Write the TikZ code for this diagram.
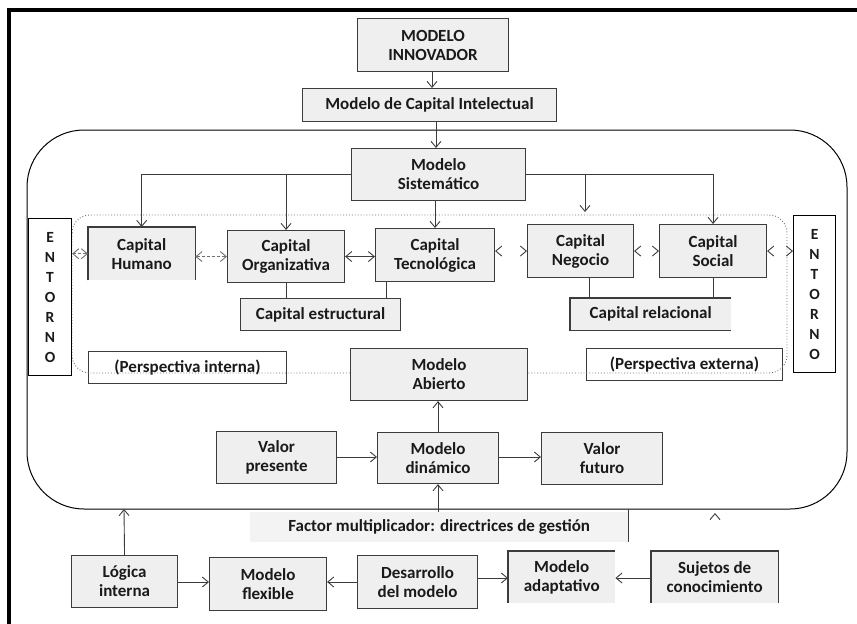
\documentclass[tikz,border=0pt]{standalone}
\usepackage{fontspec}
\setmainfont{Carlito}
\usetikzlibrary{arrows.meta}
\definecolor{boxfill}{HTML}{EFEFEF}
\definecolor{lightfill}{HTML}{F3F3F3}
\definecolor{edge}{HTML}{3C3C3C}
\definecolor{ink}{HTML}{1A1A1A}
\definecolor{loop}{HTML}{505050}
\definecolor{dots}{HTML}{707070}

\tikzset{
  boxbase/.style={fill=boxfill, inner sep=0pt, anchor=north west, align=center,
    text=ink, font=\fontsize{17}{19}\selectfont\bfseries},
  box/.style={boxbase, draw=edge, line width=1.1pt},
  openbox/.style={boxbase},
  wbox/.style={box, fill=white},
  entbox/.style={box, fill=white, draw=black, font=\fontsize{15.5}{20}\selectfont\bfseries},
  sides/.style={draw=edge, line width=1.1pt},
  conn/.style={draw=edge, line width=0.9pt},
  arr/.style={conn, -{Straight Barb[length=6pt,width=10pt,line width=0.9pt]}},
  dbl/.style={conn, {Straight Barb[length=6pt,width=10pt,line width=0.9pt]}-{Straight Barb[length=6pt,width=10pt,line width=0.9pt]}},
  dashdbl/.style={dbl, draw=dots, dash pattern=on 3pt off 2pt},
  tipsonly/.style={dbl, dash pattern=on 0pt off 200pt, line cap=butt},
}

\begin{document}
\begin{tikzpicture}[x=1pt, y=-1pt]
  \useasboundingbox (0,0) rectangle (857,624);
  \fill[white] (0,0) rectangle (857,624);

  % outer frame, open to the right and bottom
  \draw[line width=3.6pt, line cap=butt] (857,10) -- (9,10) -- (9,624);

  % loop round the core models
  \draw[loop, line width=1pt, rounded corners=57pt] (27,130) rectangle (847,509);

  % top chain
  \node[box, minimum width=151pt, minimum height=53pt] (inn) at (357,18) {MODELO\\INNOVADOR};
  \node[box, minimum width=254pt, minimum height=33pt] (mci) at (302,88) {Modelo de Capital Intelectual};
  \node[box, minimum width=174pt, minimum height=52pt] (sis) at (351,148) {Modelo\\Sistemático};

  % perspective labels (under the dotted frame)
  \node[wbox, minimum width=198pt, minimum height=32pt] (pin) at (88,351) {(Perspectiva interna)};
  \node[wbox, minimum width=196pt, minimum height=32pt] (pex) at (586,348) {(Perspectiva externa)};

  % dotted frame round the capitals
  \draw[dots, line width=0.9pt, dotted, rounded corners=18pt] (72,215) rectangle (787,373);

  % environment
  \node[entbox, minimum width=43pt, minimum height=157pt] (entL) at (28,218) {E\\N\\T\\O\\R\\N\\O};
  \node[entbox, minimum width=42pt, minimum height=157pt] (entR) at (793,215) {E\\N\\T\\O\\R\\N\\O};

  % capitals
  \node[openbox, minimum width=107pt, minimum height=53pt] (hum) at (88,227) {Capital\\Humano};
  \draw[sides] (hum.south west) -- (hum.north west) -- (hum.north east) -- (hum.south east);
  \node[box, minimum width=117pt, minimum height=52pt] (org) at (227,230) {Capital\\Organizativa};
  \node[box, minimum width=119pt, minimum height=53pt] (tec) at (375,228) {Capital\\Tecnológica};
  \node[box, minimum width=106pt, minimum height=53pt] (neg) at (527,224) {Capital\\Negocio};
  \node[box, minimum width=107pt, minimum height=53pt] (soc) at (659,224) {Capital\\Social};

  \node[box, minimum width=160pt, minimum height=32pt] (est) at (240,298) {Capital estructural};
  \node[openbox, minimum width=161pt, minimum height=32pt] (rel) at (570,298) {Capital relacional};
  \draw[sides] (rel.north east) -- (rel.north west) -- (rel.south west) -- (rel.south east);

  % core models
  \node[box, minimum width=177pt, minimum height=52pt] (abi) at (350,348) {Modelo\\Abierto};
  \node[box, minimum width=120pt, minimum height=52pt] (vpr) at (216,431) {Valor\\presente};
  \node[box, minimum width=121pt, minimum height=51pt] (din) at (377,432) {Modelo\\dinámico};
  \node[box, minimum width=121pt, minimum height=52pt] (vfu) at (541,432) {Valor\\futuro};

  \node[openbox, fill=lightfill, minimum width=378pt, minimum height=30pt] (fac) at (250,512)
    {Factor multiplicador: directrices de gestión};
  \draw[sides] (fac.east |- 0,509) -- (fac.south east);

  % bottom row
  \node[box, minimum width=106pt, minimum height=52pt] (log) at (71,555) {Lógica\\interna};
  \node[box, minimum width=117pt, minimum height=53pt] (flx) at (209,557) {Modelo\\flexible};
  \node[box, minimum width=120pt, minimum height=53pt] (des) at (357,555) {Desarrollo\\del modelo};
  \node[openbox, minimum width=107pt, minimum height=52pt] (ada) at (508,551) {Modelo\\adaptativo};
  \draw[sides] (ada.south west) -- (ada.north west) -- (ada.north east);
  \node[openbox, minimum width=127pt, minimum height=52pt] (suj) at (651,551) {Sujetos de\\conocimiento};
  \draw[sides] (suj.south west) -- (suj.north west) -- (suj.north east) -- (suj.south east);

  % free ends
  \coordinate (negtop) at (585,212);
  \coordinate (loopin) at (124,509);
  \coordinate (loopmark) at (715,513);
  \coordinate (loopmarkfoot) at (715,526);

  % top chain connectors
  \draw[arr] (inn.south -| 432,0) -- (mci.north -| 432,0);
  \draw[arr] (mci.south -| 436,0) -- (sis.north -| 436,0);

  % fan-out of the systematic model
  \draw[arr] (sis.west) -| (hum.north);
  \draw[arr] (sis.west) -| (org.north);
  \draw[arr] (sis.south -| 435,0) -- (tec.north -| 435,0);
  \draw[arr] (sis.east) -| (negtop);
  \draw[arr] (sis.east) -| (soc.north);

  % links between capitals
  \draw[dashdbl] (hum.west -| entL.east) -- (hum.west);
  \draw[dashdbl] (hum.east |- org.west) -- (org.west);
  \draw[dbl] (org.east) -- (org.east -| tec.west);
  \draw[tipsonly] (neg.west -| tec.east) -- (neg.west);
  \draw[tipsonly] (neg.east) -- (soc.west);
  \draw[tipsonly] (soc.east) -- (soc.east -| entR.west);

  % grouping lines
  \draw[conn] (org.south) -- (org.south |- est.north);
  \draw[conn] ([xshift=11pt]tec.south west) -- ([xshift=11pt]tec.south west |- est.north);
  \draw[conn] ([xshift=9pt]neg.south) -- ([xshift=9pt]neg.south |- rel.north);
  \draw[conn] (soc.south) -- (soc.south |- rel.north);

  % core model connectors
  \draw[arr] (din.north -| 438,0) -- (abi.south -| 438,0);
  \draw[arr] (vpr.east |- 0,457) -- (din.west |- 0,457);
  \draw[arr] (din.east |- 0,457) -- (vfu.west |- 0,457);
  \draw[arr] (fac.north -| 438,0) -- (din.south -| 438,0);

  % bottom row connectors
  \draw[arr] (log.north) -- (loopin);
  \draw[tipsonly, {}-{Straight Barb[length=6pt,width=10pt,line width=0.9pt]}] (loopmarkfoot) -- (loopmark);
  \draw[arr] (log.east |- 0,582) -- (flx.west |- 0,582);
  \draw[arr] (des.west |- 0,582) -- (flx.east |- 0,582);
  \draw[arr] (des.east |- 0,578) -- (ada.west |- 0,578);
  \draw[arr] (suj.west |- 0,578) -- (ada.east |- 0,578);
\end{tikzpicture}
\end{document}
